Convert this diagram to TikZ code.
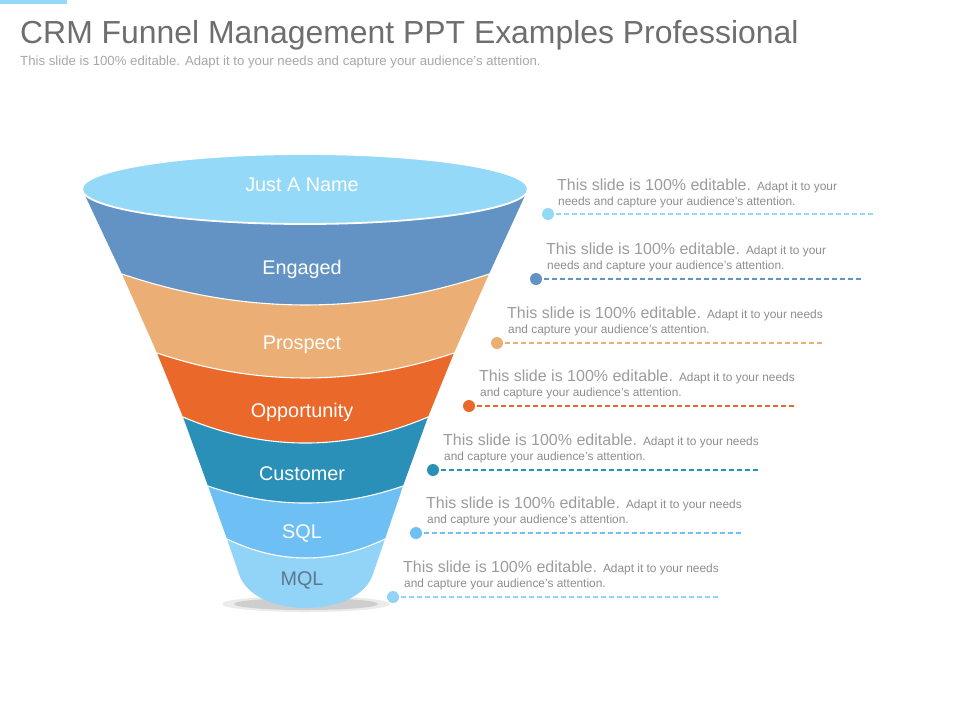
\documentclass[tikz,border=0pt]{standalone}
\usepackage{fontspec}
\setmainfont{Liberation Sans}
\definecolor{ctop}{HTML}{95D9F8}
\definecolor{ceng}{HTML}{6393C4}
\definecolor{cpro}{HTML}{EBAE74}
\definecolor{copp}{HTML}{E9682A}
\definecolor{ccus}{HTML}{2A90B8}
\definecolor{csql}{HTML}{6DBFF4}
\definecolor{cmql}{HTML}{92D4F7}
\definecolor{cmqltext}{HTML}{60788C}
\definecolor{ctitle}{HTML}{6E6E6E}
\definecolor{csub}{HTML}{A8A8A8}
\definecolor{cbig}{HTML}{9C9C9C}
\definecolor{csmall}{HTML}{8E8E8E}
\tikzset{
  lbl/.style={anchor=base, inner sep=0, text=white, font=\fontsize{19.8}{23}\selectfont},
  dotnode/.style={circle, fill=#1, minimum size=12pt, inner sep=0},
  dashline/.style={draw=#1, line width=1.4pt, dash pattern=on 5pt off 3pt},
  bigline/.style={anchor=base west, inner sep=0, text=cbig, font=\fontsize{16}{18}\selectfont},
  smallline/.style={anchor=base west, inner sep=0, text=csmall, font=\fontsize{11.9}{14}\selectfont},
  sep/.style={draw=white, line width=1.1pt}
}
\newcommand{\smalltxt}[1]{{\fontsize{11.9}{14}\selectfont\color{csmall}#1}}
\begin{document}
\begin{tikzpicture}[x=1pt,y=-1pt]
\useasboundingbox (0,0) rectangle (960,720);
\fill[white] (0,0) rectangle (960,720);
% top bar
\fill[ctop] (0,0) rectangle (67,4);
% title
\node[anchor=base west, inner sep=0, text=ctitle, font=\fontsize{31.9}{36}\selectfont] (title) at (20,43) {CRM Funnel Management PPT Examples Professional};
\node[anchor=base west, inner sep=0, text=csub, font=\fontsize{13.2}{15}\selectfont] (subtitle) at (20,65) {This slide is 100\% editable. Adapt it to your needs and capture your audience's attention.};
% shadow
\fill[gray!45, opacity=0.35] (306,604) ellipse [x radius=84pt, y radius=8pt];
\fill[gray!60, opacity=0.5] (306,604) ellipse [x radius=72pt, y radius=6pt];
% bands
\fill[ceng] (82,189) .. controls (82,208.3) and (181.8,224) .. (305,224) .. controls (428.2,224) and (528,208.3) .. (528,189)
  -- (489,274) .. controls (366.7,315.3) and (244.3,315.3) .. (122,274) -- cycle;
\fill[cpro] (122,274) .. controls (244.3,315.3) and (366.7,315.3) .. (489,274)
  -- (454,353) .. controls (355,386.3) and (256,386.3) .. (157,353) -- cycle;
\fill[copp] (157,353) .. controls (256,386.3) and (355,386.3) .. (454,353)
  -- (428,417) .. controls (346.3,451.7) and (264.7,451.7) .. (183,417) -- cycle;
\fill[ccus] (183,417) .. controls (264.7,451.7) and (346.3,451.7) .. (428,417)
  -- (403,486) .. controls (338,508.7) and (273,508.7) .. (208,486) -- cycle;
\fill[csql] (208,486) .. controls (273,508.7) and (338,508.7) .. (403,486)
  -- (385,539) .. controls (332.3,564.3) and (279.7,564.3) .. (227,539) -- cycle;
\fill[cmql] (227,539) .. controls (279.7,564.3) and (332.3,564.3) .. (385,539)
  -- (373,574) .. controls (366,596) and (337,608) .. (306,608) .. controls (275,608) and (246,596) .. (239,574) -- cycle;
% separators
\draw[sep] (122,274) .. controls (244.3,315.3) and (366.7,315.3) .. (489,274);
\draw[sep] (157,353) .. controls (256,386.3) and (355,386.3) .. (454,353);
\draw[sep] (183,417) .. controls (264.7,451.7) and (346.3,451.7) .. (428,417);
\draw[sep] (208,486) .. controls (273,508.7) and (338,508.7) .. (403,486);
\draw[sep] (227,539) .. controls (279.7,564.3) and (332.3,564.3) .. (385,539);
% top ellipse
\fill[ctop, draw=white, line width=1.8pt] (305,189) ellipse [x radius=223pt, y radius=35pt];
% labels
\node[lbl] (l0) at (302,191) {Just A Name};
\node[lbl] (l1) at (302,274) {Engaged};
\node[lbl] (l2) at (302,349) {Prospect};
\node[lbl] (l3) at (302,417) {Opportunity};
\node[lbl] (l4) at (302,480) {Customer};
\node[lbl] (l5) at (302,538) {SQL};
\node[lbl, text=cmqltext] (l6) at (302,585) {MQL};
% right side items
\node[dotnode=ctop] (d1) at (548,214) {};
\coordinate (e1) at (875,214);
\draw[dashline=ctop] (d1.center) -- (e1);
\node[bigline] (a1) at (557,190) {This slide is 100\% editable. \smalltxt{Adapt it to your}};
\node[smallline] (b1) at (558,205) {needs and capture your audience's attention.};

\node[dotnode=ceng] (d2) at (536,279) {};
\coordinate (e2) at (862,279);
\draw[dashline=ceng] (d2.center) -- (e2);
\node[bigline] (a2) at (546,254) {This slide is 100\% editable. \smalltxt{Adapt it to your}};
\node[smallline] (b2) at (547,269) {needs and capture your audience's attention.};

\node[dotnode=cpro] (d3) at (497,343) {};
\coordinate (e3) at (823,343);
\draw[dashline=cpro] (d3.center) -- (e3);
\node[bigline] (a3) at (507,318) {This slide is 100\% editable. \smalltxt{Adapt it to your needs}};
\node[smallline] (b3) at (508,333) {and capture your audience's attention.};

\node[dotnode=copp] (d4) at (469,406) {};
\coordinate (e4) at (795,406);
\draw[dashline=copp] (d4.center) -- (e4);
\node[bigline] (a4) at (479,381) {This slide is 100\% editable. \smalltxt{Adapt it to your needs}};
\node[smallline] (b4) at (480,396) {and capture your audience's attention.};

\node[dotnode=ccus] (d5) at (433,470) {};
\coordinate (e5) at (760,470);
\draw[dashline=ccus] (d5.center) -- (e5);
\node[bigline] (a5) at (443,445) {This slide is 100\% editable. \smalltxt{Adapt it to your needs}};
\node[smallline] (b5) at (444,460) {and capture your audience's attention.};

\node[dotnode=csql] (d6) at (416,533) {};
\coordinate (e6) at (742,533);
\draw[dashline=csql] (d6.center) -- (e6);
\node[bigline] (a6) at (426,508) {This slide is 100\% editable. \smalltxt{Adapt it to your needs}};
\node[smallline] (b6) at (427,523) {and capture your audience's attention.};

\node[dotnode=cmql] (d7) at (393,597) {};
\coordinate (e7) at (719,597);
\draw[dashline=cmql] (d7.center) -- (e7);
\node[bigline] (a7) at (403,572) {This slide is 100\% editable. \smalltxt{Adapt it to your needs}};
\node[smallline] (b7) at (404,587) {and capture your audience's attention.};
\end{tikzpicture}
\end{document}
